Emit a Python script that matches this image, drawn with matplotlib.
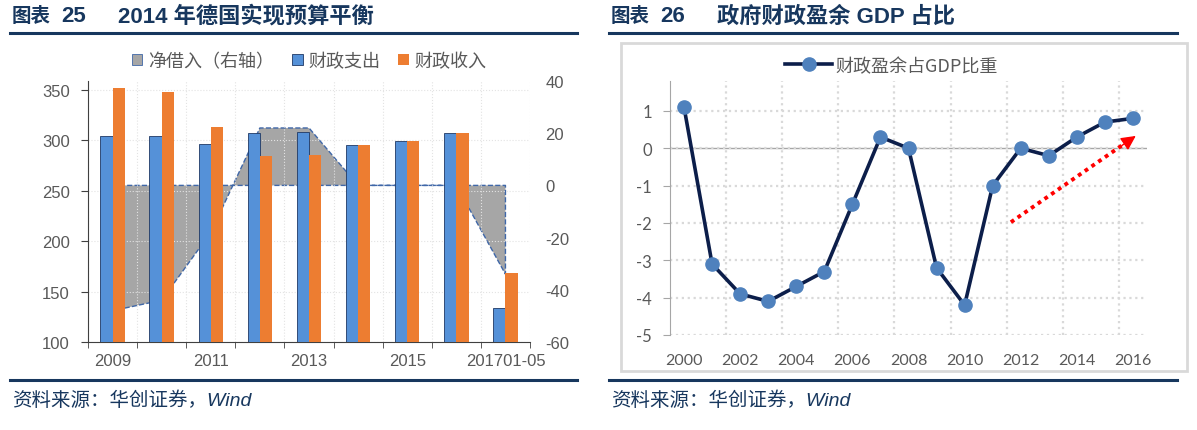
import numpy as np
import matplotlib
matplotlib.use('Agg')
import matplotlib.pyplot as plt
from matplotlib.lines import Line2D
from matplotlib.patches import Rectangle

plt.rcParams['font.family'] = ['Liberation Sans', 'Noto Sans CJK SC', 'DejaVu Sans']
plt.rcParams['axes.unicode_minus'] = False

# left chart: German federal budget
years_l = ['2009', '2010', '2011', '2012', '2013', '2014', '2015', '2016', '201701-05']
spending = [304, 304, 296, 307, 308, 295, 299, 307, 134]
revenue = [352, 348, 313, 285, 286, 295, 299, 307, 168]
net_borrow = [-48, -44, -18, 22, 22, 0, 0, 0, -34]

# right chart: fiscal surplus as % of GDP
years_r = list(range(2000, 2017))
surplus = [1.1, -3.1, -3.9, -4.1, -3.7, -3.3, -1.5, 0.3, 0.0, -3.2, -4.2,
           -1.0, 0.0, -0.2, 0.3, 0.7, 0.8]

navy = '#17375E'
grey_txt = '#595959'
W, H = 1197, 431

fig = plt.figure(figsize=(W / 100, H / 100), dpi=100)


def fx(px):
    return px / W


def fy(py):
    return 1 - py / H


# headers, rules and sources
for x0, x1, num, title in [(10, 577, '25', '2014 年德国实现预算平衡'),
                           (609, 1177, '26', '政府财政盈余 GDP 占比')]:
    kw = dict(fontweight='bold', color=navy, va='center', ha='left')
    fig.text(fx(x0 + 2), fy(17), '图表', fontsize=14, **kw)
    fig.text(fx(x0 + 51), fy(17), num, fontsize=16, **kw)
    fig.text(fx(x0 + 108), fy(17), title, fontsize=16, **kw)
    fig.add_artist(Line2D([fx(x0), fx(x1)], [fy(34), fy(34)], color=navy, lw=2.2))
    fig.add_artist(Line2D([fx(x0), fx(x1)], [fy(381), fy(381)], color=navy, lw=2.2))
    fig.text(fx(x0 + 2), fy(401), '资料来源：华创证券，Wind', fontsize=14,
             style='italic', color=navy, va='center', ha='left')

# ---------- left chart ----------
x = np.arange(len(years_l))
ax = fig.add_axes([fx(88), fy(343), fx(530 - 88), (343 - 82) / H])
ax2 = ax.twinx()
ax.set_zorder(ax2.get_zorder() + 1)
ax.patch.set_visible(False)

ax2.fill_between(x, 0, net_borrow, facecolor='#A6A6A6', edgecolor='#3F67A8',
                 linestyle='--', linewidth=1.0, zorder=1)
b1 = ax.bar(x - 0.125, spending, width=0.25, color='#5591D8', edgecolor='#1F3864',
            linewidth=0.6, zorder=3)
b2 = ax.bar(x + 0.125, revenue, width=0.25, color='#ED7D31', zorder=3)

ax.set_xlim(-0.5, len(x) - 0.5)
ax.set_ylim(100, 359)
ax.set_yticks(np.arange(100, 351, 50))
ax2.set_ylim(-60, 40)
ax2.set_yticks(np.arange(-60, 41, 20))

ax.set_xticks(x[::2])
ax.set_xticklabels(years_l[::2])
ax.set_xticks(np.arange(-0.5, len(x), 1), minor=True)
ax.tick_params(axis='x', which='major', length=0, pad=8, labelsize=12, labelcolor=grey_txt)
ax.tick_params(axis='x', which='minor', length=4, direction='out', color='#404040')
ax.tick_params(axis='y', length=5, direction='out', labelsize=12, labelcolor=grey_txt,
               color='#404040', pad=8)
ax2.tick_params(axis='y', length=0, pad=11, labelsize=12, labelcolor=grey_txt)
ax.grid(True, which='minor', axis='x', color='#E3E3E3', ls=':', lw=0.8, zorder=0)
ax.grid(True, which='major', axis='y', color='#E3E3E3', ls=':', lw=0.8, zorder=0)
for s in ['top', 'right']:
    ax.spines[s].set_visible(False)
for s in ['top', 'right', 'left', 'bottom']:
    ax2.spines[s].set_visible(False)
ax.spines['left'].set_color('#404040')
ax.spines['bottom'].set_color('#404040')

h_area = Rectangle((0, 0), 1, 1, facecolor='#A6A6A6', edgecolor='#3F67A8', lw=0.6)
ax.legend([h_area, b1, b2], ['净借入（右轴）', '财政支出', '财政收入'],
          loc='center', bbox_to_anchor=(0.5, 1.077), ncol=3, frameon=False,
          handlelength=0.6, handleheight=0.6, handletextpad=0.3, columnspacing=1.0,
          prop={'family': ['Noto Sans CJK SC'], 'size': 13}, labelcolor=grey_txt)

# ---------- right chart ----------
fig.add_artist(Rectangle((fx(621), fy(372)), fx(1187 - 621), (372 - 44) / H,
                         fill=False, edgecolor='#D9D9D9', lw=2))
axr = fig.add_axes([fx(670), fy(336), fx(1147 - 670), (336 - 82) / H])
axr.plot(years_r, surplus, color='#0C1E4A', lw=2.6, marker='o', markersize=9.5,
         markerfacecolor='#4F81BD', markeredgecolor='#4F81BD', zorder=4,
         label='财政盈余占GDP比重')
axr.set_xlim(1999.5, 2016.5)
axr.set_ylim(-5, 1.8)
axr.set_yticks(np.arange(-5, 2, 1))
axr.set_xticks(years_r[::2])
axr.set_xticklabels([str(y) for y in years_r[::2]])
axr.set_xticks(np.arange(2001.5, 2016, 2), minor=True)
axr.tick_params(axis='x', which='both', length=0, pad=13, labelsize=11.5,
                labelcolor=grey_txt, labelfontfamily='Lato')
axr.tick_params(axis='y', length=5, direction='out', color='#A6A6A6', labelsize=12,
                labelcolor=grey_txt, labelfontfamily='Lato', pad=8)
axr.grid(True, which='minor', axis='x', color='#D9D9D9', ls=':', lw=1.6, zorder=0)
axr.grid(True, which='major', axis='y', color='#D9D9D9', ls=':', lw=1.6, zorder=0)
axr.axhline(0, color='#A6A6A6', lw=1, zorder=1)
for s in ['top', 'right', 'bottom']:
    axr.spines[s].set_visible(False)
axr.spines['left'].set_color('#A6A6A6')

# red dotted trend arrow
arr_x = [2011.65, 2015.75]
arr_y = [-1.98, 0.15]
axr.plot(arr_x, arr_y, color='#FF0000', lw=2.8, ls=(0, (1, 1.1)), zorder=5)
axr.annotate('', xy=(2016.1, 0.33), xytext=(2015.6, 0.07),
             arrowprops=dict(arrowstyle='-|>', color='#FF0000', lw=1,
                             mutation_scale=22, shrinkA=0, shrinkB=0), zorder=5)

axr.legend(loc='center', bbox_to_anchor=(0.465, 1.06), frameon=False, handlelength=2.6,
           handletextpad=0.2, prop={'family': ['Noto Sans CJK SC'], 'size': 13},
           labelcolor=grey_txt)

fig.savefig('out.png', dpi=100)
